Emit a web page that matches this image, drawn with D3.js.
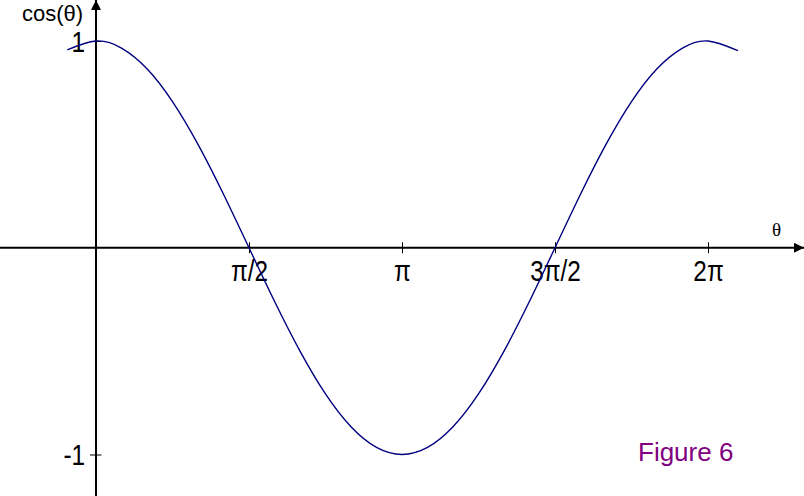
<!DOCTYPE html>
<html>
<head>
<meta charset="utf-8">
<script src="https://cdn.jsdelivr.net/npm/d3@7"></script>
<style>
  body { margin: 0; background: #fff; }
  svg { display: block; font-family: "Liberation Sans", Arial, sans-serif; }
</style>
</head>
<body>
<svg id="chart" width="804" height="496"></svg>
<script>
// angles in degrees, cos values
const thetaDeg = [-16.9, 0, 15, 30, 45, 60, 75, 90, 105, 120, 135, 150, 165, 180,
  195, 210, 225, 240, 255, 270, 285, 300, 315, 330, 345, 360, 377.6];
const cosVals = [0.957, 1, 0.966, 0.866, 0.707, 0.5, 0.259, 0, -0.259, -0.5, -0.707, -0.866, -0.966, -1,
  -0.966, -0.866, -0.707, -0.5, -0.259, 0, 0.259, 0.5, 0.707, 0.866, 0.966, 1, 0.953];
const xTicks = [90, 180, 270, 360];
const xTickLabels = ['π/2', 'π', '3π/2', '2π'];
const yTicks = [1, -1];
const yTickLabels = ['1', '-1'];

const svg = d3.select('#chart');
const W = 804, H = 496;

const x = d3.scaleLinear().domain([0, 360]).range([96, 708]);
const y = d3.scaleLinear().domain([-1, 1]).range([454.5, 41]);

const x0 = x(0), y0 = y(0);

// arrow heads
const defs = svg.append('defs');
defs.append('marker')
  .attr('id', 'arrow')
  .attr('viewBox', '0 0 10 10')
  .attr('refX', 10)
  .attr('refY', 5)
  .attr('markerWidth', 10)
  .attr('markerHeight', 10)
  .attr('markerUnits', 'userSpaceOnUse')
  .attr('orient', 'auto')
  .append('path')
  .attr('d', 'M0,0 L10,5 L0,10 Z')
  .attr('fill', '#000');

// x axis line
svg.append('line')
  .attr('x1', 0).attr('x2', W)
  .attr('y1', y0).attr('y2', y0)
  .attr('stroke', '#000').attr('stroke-width', 2)
  .attr('marker-end', 'url(#arrow)');

// y axis line
svg.append('line')
  .attr('x1', x0).attr('x2', x0)
  .attr('y1', H).attr('y2', 0)
  .attr('stroke', '#000').attr('stroke-width', 2)
  .attr('marker-end', 'url(#arrow)');

// x ticks
const xAxis = svg.append('g')
  .attr('transform', `translate(0,${y0})`)
  .call(d3.axisBottom(x).tickValues(xTicks).tickSize(6)
    .tickFormat((d, i) => xTickLabels[i]));
xAxis.select('.domain').remove();
xAxis.selectAll('.tick line').attr('y1', -5.5).attr('y2', 5.5).attr('stroke', '#000');
xAxis.selectAll('.tick text')
  .attr('y', 33.5)
  .attr('dy', 0)
  .attr('fill', '#000')
  .attr('transform', 'scale(0.84,1)')
  .style('font-size', '29px')
  .style('font-family', '"Liberation Sans", Arial, sans-serif');

// y ticks
const yAxis = svg.append('g')
  .attr('transform', `translate(${x0},0)`)
  .call(d3.axisLeft(y).tickValues(yTicks).tickSize(6)
    .tickFormat((d, i) => yTickLabels[i]));
yAxis.select('.domain').remove();
yAxis.selectAll('.tick line').attr('x1', -6).attr('x2', 5.5).attr('stroke', '#000');
yAxis.selectAll('.tick text')
  .attr('x', -13)
  .attr('dy', '0.36em')
  .attr('fill', '#000')
  .attr('transform', 'scale(0.84,1)')
  .style('font-size', '29px')
  .style('font-family', '"Liberation Sans", Arial, sans-serif');

// curve
const pts = thetaDeg.map((t, i) => [t, cosVals[i]]);
svg.append('path')
  .datum(pts)
  .attr('fill', 'none')
  .attr('stroke', '#000080')
  .attr('stroke-width', 1.4)
  .attr('d', d3.line().x(d => x(d[0])).y(d => y(d[1])).curve(d3.curveNatural));

// axis titles
svg.append('text')
  .attr('x', 22).attr('y', 21)
  .style('font-size', '22px')
  .text('cos(θ)');

svg.append('text')
  .attr('x', 772).attr('y', 236)
  .style('font-size', '19px')
  .style('font-family', '"Liberation Serif", "Times New Roman", serif')
  .text('θ');

svg.append('text')
  .attr('x', 638).attr('y', 461)
  .attr('fill', '#800080')
  .style('font-size', '26px')
  .text('Figure 6');
</script>
</body>
</html>
